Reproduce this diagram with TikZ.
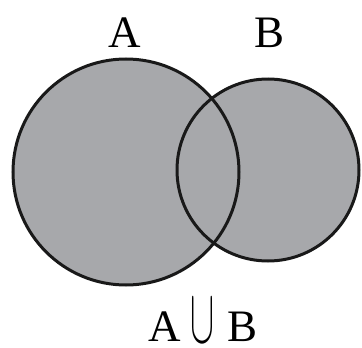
\RequirePackage{fix-cm}
\documentclass[tikz,border=0pt]{standalone}
\usepackage{amsmath}
\usepackage{graphicx}
\usepackage{fontspec}
\setmainfont{Liberation Serif}
\usetikzlibrary{positioning}
\definecolor{setgray}{RGB}{167,168,171}
\newcommand{\tallcup}{\raisebox{-1pt}{\resizebox{24pt}{43pt}{$\cup$}}}
\tikzset{
  setlabel/.style={inner sep=0pt,anchor=base,font=\fontsize{45}{45}\selectfont},
  setedge/.style={line width=3pt,draw=black!90}
}

\begin{document}
\begin{tikzpicture}[x=1pt,y=-1pt]
\useasboundingbox (0,0) rectangle (362,348);
% union of two sets, both shaded
\fill[setgray] (126,172) circle (113);
\fill[setgray] (268,170) circle (91);
\draw[setedge] (126,172) circle (113);
\draw[setedge] (268,170) circle (91);
\node[setlabel] (labA) at (125,47) {A};
\node[setlabel] (labB) at (270,47) {B};
\node[setlabel] (labU) at (203,341) {A\hspace{10pt}\tallcup\hspace{13pt}B};
\end{tikzpicture}
\end{document}
